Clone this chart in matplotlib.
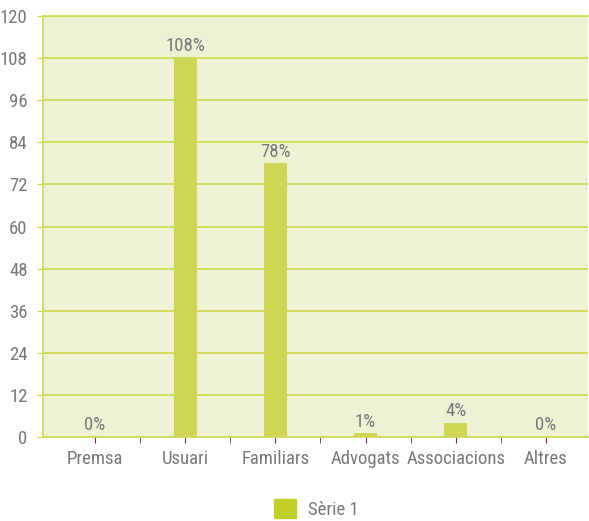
import matplotlib
matplotlib.use("Agg")
import matplotlib.pyplot as plt
from matplotlib.patches import Patch
from matplotlib.ticker import MultipleLocator, FixedLocator

categories = ["Premsa", "Usuari", "Familiars", "Advogats", "Associacions", "Altres"]
values = [0, 108, 78, 1, 4, 0]
labels = ["0%", "108%", "78%", "1%", "4%", "0%"]
series_name = "Sèrie 1"

plt.rcParams["font.family"] = ["Roboto Condensed", "Roboto", "DejaVu Sans"]
plt.rcParams["font.stretch"] = "condensed"

TEXT = "#787878"
GRID = "#cdd84a"
BAR = "#cfd555"
BG = "#eef2d5"
TICK = "#8b1a6b"
FS = 13.5

W, H = 589, 521
fig = plt.figure(figsize=(W / 100, H / 100), dpi=100)
ax = fig.add_axes([43 / W, (H - 437) / H, 545 / W, 421 / H])
ax.set_facecolor(BG)

x = list(range(len(categories)))
ax.bar(x, values, width=0.255, color=BAR, zorder=3)
for xi, v, lab in zip(x, values, labels):
    ax.annotate(lab, (xi, v), xytext=(0, 2), textcoords="offset points",
                ha="center", va="bottom", color=TEXT, fontsize=FS, zorder=4)

ax.set_xlim(-0.576, 5.466)
ax.set_ylim(0, 120)
ax.yaxis.set_major_locator(MultipleLocator(12))
ax.grid(axis="y", color=GRID, linewidth=1.2, zorder=1)

ax.set_xticks(x)
ax.set_xticklabels(categories)
ax.xaxis.set_minor_locator(FixedLocator([i + 0.5 for i in range(5)]))
ax.tick_params(axis="x", which="both", length=4, color=TICK, labelcolor=TEXT,
               labelsize=FS, pad=5)
ax.tick_params(axis="y", length=4, color=GRID, labelcolor=TEXT, labelsize=FS, pad=7)
# the zero tick on the value axis is drawn in the category-axis colour
ax.yaxis.get_major_ticks()[0].tick1line.set_color(TICK)

for side in ["left", "bottom", "top"]:
    ax.spines[side].set_color(GRID)
    ax.spines[side].set_linewidth(1.2)
ax.spines["right"].set_visible(False)

fig.legend(handles=[Patch(color="#c0cf2a", label=series_name)], loc="center",
           bbox_to_anchor=(316 / W, (H - 509) / H), frameon=False, fontsize=FS,
           labelcolor=TEXT, handlelength=1.2, handleheight=1.2, handletextpad=0.6)

fig.savefig("out.png", dpi=100)
